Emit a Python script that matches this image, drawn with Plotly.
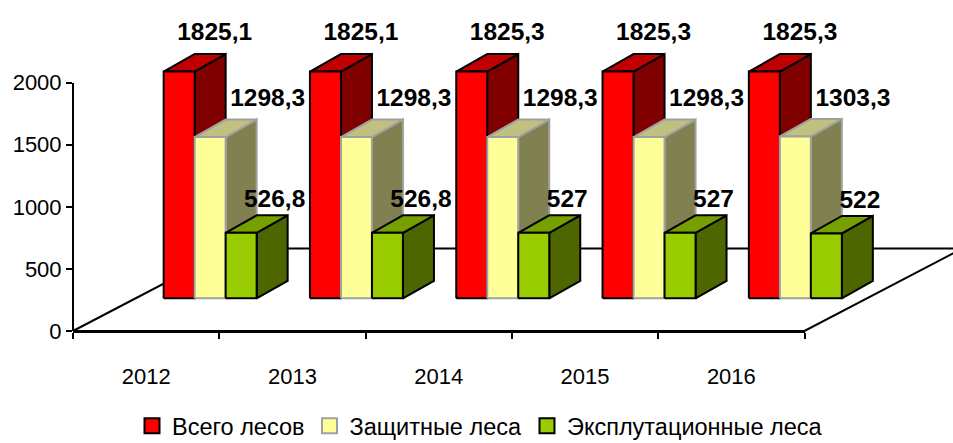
import plotly.graph_objects as go

# ---------------- data ----------------
years = ["2012", "2013", "2014", "2015", "2016"]
series_names = ["Всего лесов", "Защитные леса", "Эксплутационные леса"]
total_forest = [1825.1, 1825.1, 1825.3, 1825.3, 1825.3]
protective_forest = [1298.3, 1298.3, 1298.3, 1298.3, 1303.3]
exploitation_forest = [526.8, 526.8, 527, 527, 522]
y_tick_values = [0, 500, 1000, 1500, 2000]

# ---------------- layout geometry (pixels) ----------------
W, H = 953, 443
ML = 73                 # left margin (value axis position)
PX_PER_CAT = 146.3      # width of one category along the front edge
PX_PER_VAL = 0.1242     # pixels per value unit
ZERO_PX = 331           # pixel row of value 0 (front edge)
BAR_W_PX = 31
GROUP_SHIFT_PX = (64, 32.7)     # bars stand mid-depth on the floor
BAR_DEPTH_PX = (31, 17.5)       # 3-D depth of each bar
FLOOR_DEPTH_PX = (158, 82.5)    # 3-D depth of the floor

def cx(px):
    return px / PX_PER_CAT

def vy(px):
    return px / PX_PER_VAL

x_max = (W - ML) / PX_PER_CAT
y_min = -(H - ZERO_PX) / PX_PER_VAL
y_max = ZERO_PX / PX_PER_VAL

bw = cx(BAR_W_PX)
ddx, ddy = cx(BAR_DEPTH_PX[0]), vy(BAR_DEPTH_PX[1])
base = vy(GROUP_SHIFT_PX[1])
shift = cx(GROUP_SHIFT_PX[0])

styles = [
    dict(front="#FF0000", top="#C00000", side="#800000", line="#000000",
         lab_dx=20, lab_dy=38),
    dict(front="#FFFF99", top="#C0C080", side="#808050", line="#A0A0A0",
         lab_dx=42, lab_dy=37),
    dict(front="#99CC00", top="#76A000", side="#4D6600", line="#000000",
         lab_dx=18, lab_dy=32),
]

def fmt(v):
    s = ("%.1f" % v).rstrip("0").rstrip(".")
    return s.replace(".", ",")

fig = go.Figure()

# floor outline
fdx, fdy = cx(FLOOR_DEPTH_PX[0]), vy(FLOOR_DEPTH_PX[1])
n = len(years)
fig.add_trace(go.Scatter(
    x=[0, n, n + fdx, fdx, 0], y=[0, 0, fdy, fdy, 0],
    mode="lines", line=dict(color="black", width=2),
    hoverinfo="skip", showlegend=False))

all_series = [total_forest, protective_forest, exploitation_forest]

label_x, label_y, label_t = [], [], []
for s, (vals, st) in enumerate(zip(all_series, styles)):
    fx, fy, tx, ty, sx, sy = [], [], [], [], [], []
    for i, v in enumerate(vals):
        x0 = i + 0.5 + shift - 1.5 * bw + s * bw
        x1 = x0 + bw
        y0 = base
        y1 = base + v
        fx += [x0, x1, x1, x0, x0, None]
        fy += [y0, y0, y1, y1, y0, None]
        tx += [x0, x1, x1 + ddx, x0 + ddx, x0, None]
        ty += [y1, y1, y1 + ddy, y1 + ddy, y1, None]
        sx += [x1, x1 + ddx, x1 + ddx, x1, x1, None]
        sy += [y0, y0 + ddy, y1 + ddy, y1, y0, None]
        label_x.append(x0 + bw / 2 + ddx / 2 + cx(st["lab_dx"]))
        label_y.append(y1 + vy(st["lab_dy"]))
        label_t.append(fmt(v))
    for xs, ys, col in ((sx, sy, st["side"]), (tx, ty, st["top"]), (fx, fy, st["front"])):
        fig.add_trace(go.Scatter(
            x=xs, y=ys, mode="lines", fill="toself", fillcolor=col,
            line=dict(color=st["line"], width=2), hoverinfo="skip",
            showlegend=False))

fig.add_trace(go.Scatter(
    x=label_x, y=label_y, text=label_t, mode="text",
    textfont=dict(family="Arial, Liberation Sans", size=24.5, color="black",
                  weight="bold"),
    textposition="middle center", hoverinfo="skip", showlegend=False))

# legend entries (on the display axes)
for name, st in zip(series_names, styles):
    fig.add_trace(go.Scatter(
        x=[None], y=[None], mode="markers", name=name,
        marker=dict(symbol="square", size=15, color=st["front"],
                    line=dict(color=st["line"], width=2)),
        xaxis="x2", yaxis="y2"))

plot_w = W - ML
fig.update_layout(
    width=W, height=H,
    margin=dict(l=ML, r=0, t=0, b=0, autoexpand=False),
    paper_bgcolor="white", plot_bgcolor="rgba(0,0,0,0)",
    font=dict(family="Arial, Liberation Sans", size=22, color="black"),
    xaxis=dict(range=[0, x_max], visible=False, fixedrange=True),
    yaxis=dict(range=[y_min, y_max], visible=False, fixedrange=True),
    xaxis2=dict(domain=[0, n / x_max], range=[0, n], anchor="y2",
                showline=True, linecolor="black", linewidth=2,
                showgrid=False, zeroline=False,
                tickmode="array", tickvals=[i + 0.5 for i in range(n)],
                ticktext=years, ticks="", ticklabelstandoff=25,
                tickfont=dict(size=22),
                minor=dict(tickmode="array", tickvals=list(range(n + 1)),
                           ticks="outside", ticklen=6, tickwidth=2,
                           tickcolor="black", showgrid=False),
                fixedrange=True),
    yaxis2=dict(domain=[(H - ZERO_PX) / H, (H - ZERO_PX + 2000 * PX_PER_VAL) / H],
                range=[0, 2000], anchor="free", position=0,
                showline=True, linecolor="black", linewidth=2,
                showgrid=False, zeroline=False,
                tickmode="array", tickvals=y_tick_values,
                ticks="outside", ticklen=6, tickwidth=2, tickcolor="black",
                tickfont=dict(size=22), fixedrange=True),
    showlegend=True,
    legend=dict(orientation="h", x=(480 - ML) / plot_w, xanchor="center",
                y=(H - 426) / H, yanchor="middle", font=dict(size=23.5),
                bgcolor="rgba(0,0,0,0)", itemwidth=30),
)

fig.write_html("out.html")
